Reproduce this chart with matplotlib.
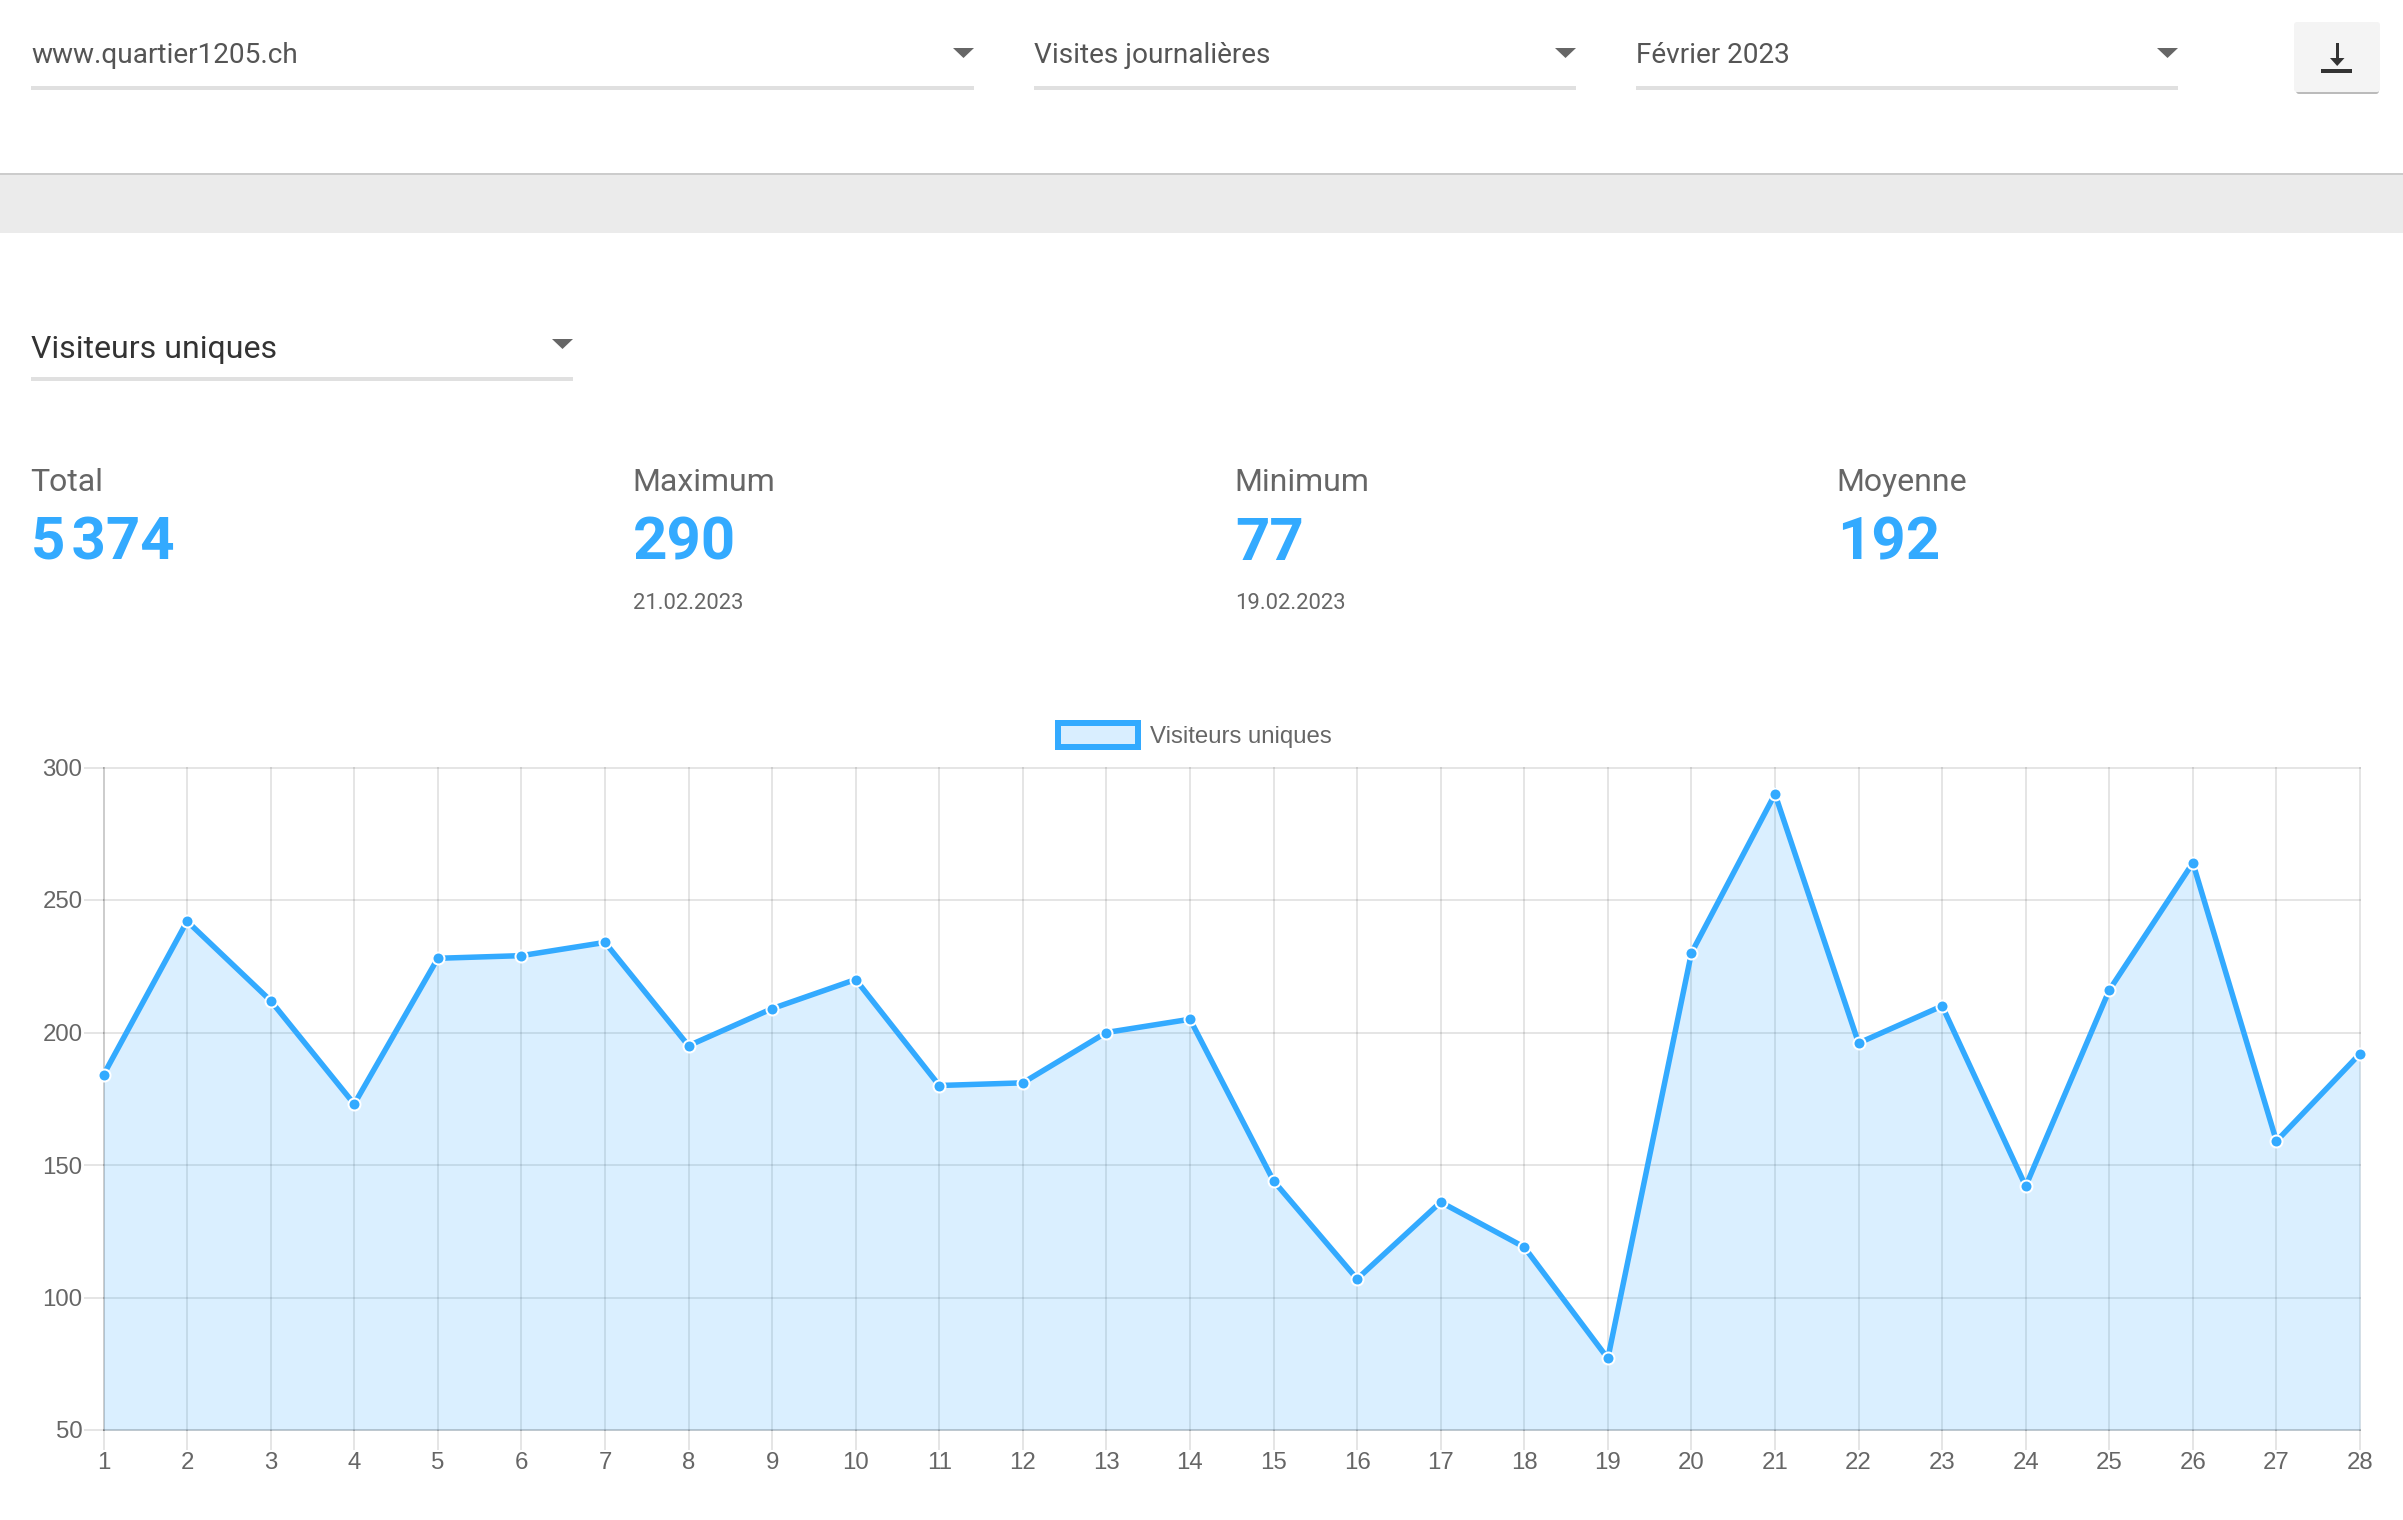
"""
plot.py

Dashboard screenshot: daily unique visitors for February 2023.
"""

import matplotlib
matplotlib.use("Agg")
import matplotlib.pyplot as plt
from matplotlib.patches import Rectangle, FancyBboxPatch, Polygon

days = list(range(1, 29))
visitors = [184, 242, 212, 173, 228, 229, 234, 195, 209, 220, 180, 181, 200, 205,
            144, 107, 136, 119, 77, 230, 290, 196, 210, 142, 216, 264, 159, 192]
y_ticks = [50, 100, 150, 200, 250, 300]
stat_labels = ["Total", "Maximum", "Minimum", "Moyenne"]
stat_values = ["5\u200a374", "290", "77", "192"]
stat_dates = ["", "21.02.2023", "19.02.2023", ""]
select_labels = ["www.quartier1205.ch", "Visites journalières", "Février 2023"]
series_name = "Visiteurs uniques"

W, H = 2403, 1520
BLUE = "#33aaff"
GRID_ALPHA = 0.1
GRID = (0, 0, 0, GRID_ALPHA)
TEXT = "#666666"


def px(size):
    # font sizes and line widths given in image pixels
    return size * 72 / 100


def draw_select(ax, x0, x1, y_line, y_arrow, y_text, label, size, color):
    ax.add_patch(Rectangle((x0, y_line), x1 - x0, 4, fc="#e0e0e0", ec="none"))
    ax.add_patch(Polygon([(x1 - 21, y_arrow), (x1, y_arrow), (x1 - 10.5, y_arrow + 10)],
                         fc="#666666", ec="none"))
    ax.text(x0, y_text, label, family="Roboto", fontsize=px(size), color=color,
            va="baseline", ha="left")


fig = plt.figure(figsize=(W / 100, H / 100), dpi=100, facecolor="white")

# page furniture, in pixel coordinates
bg = fig.add_axes([0, 0, 1, 1])
bg.set_xlim(0, W)
bg.set_ylim(H, 0)
bg.axis("off")

bg.add_patch(Rectangle((0, 174), W, 59, fc="#ebebeb", ec="none"))
bg.add_patch(Rectangle((0, 172.5), W, 2, fc="#cccccc", ec="none"))

draw_select(bg, 31, 974, 86, 48, 63, select_labels[0], 28, "#555555")
draw_select(bg, 1034, 1576, 86, 48, 63, select_labels[1], 28, "#555555")
draw_select(bg, 1636, 2178, 86, 48, 63, select_labels[2], 28, "#555555")
draw_select(bg, 31, 573, 377, 339, 358, series_name, 32, "#333333")

# download button
bg.add_patch(FancyBboxPatch((2296, 26), 83, 68, boxstyle="round,pad=0,rounding_size=3",
                            fc="#bbbbbb", ec="none"))
bg.add_patch(FancyBboxPatch((2294, 22), 86, 70, boxstyle="round,pad=0,rounding_size=3",
                            fc="#f4f4f4", ec="none"))
bg.add_patch(Rectangle((2336, 43), 2.5, 18, fc="#333333", ec="none"))
bg.add_patch(Polygon([(2330, 58), (2344.5, 58), (2337.2, 66)], fc="#333333", ec="none"))
bg.add_patch(Rectangle((2321, 69), 31, 4, fc="#333333", ec="none"))

# stats row
stat_x = [30, 632, 1234, 1836]
for x, label, value, date in zip(stat_x, stat_labels, stat_values, stat_dates):
    bg.text(x, 491, label, family="Roboto", fontsize=px(32), color=TEXT, va="baseline")
    bg.text(x + 1, 560, value, family=["Roboto", "DejaVu Sans"], fontsize=px(60),
            fontweight="bold", color=BLUE, va="baseline")
    if date:
        bg.text(x + 1, 609, date, family="Roboto", fontsize=px(22), color=TEXT, va="baseline")

# legend
bg.add_patch(Rectangle((1058, 723), 80, 24, fc="#d9eeff", ec=BLUE, lw=px(6)))
bg.text(1150, 743, series_name, family="Liberation Sans", fontsize=px(24),
        color=TEXT, va="baseline")

# chart
left, right, top, bottom = 103.5, 2360, 767.5, 1430
ax = fig.add_axes([left / W, 1 - bottom / H, (right - left) / W, (bottom - top) / H])
ax.patch.set_alpha(0)
ax.set_xlim(1, 28)
ax.set_ylim(50, 300)
ax.set_xticks(days)
ax.set_yticks(y_ticks)
ax.grid(True, color="black", alpha=GRID_ALPHA, linewidth=px(2))
ax.set_axisbelow(True)
for line in ax.get_xgridlines() + ax.get_ygridlines():
    line.set_clip_on(False)
ax.spines["top"].set_visible(False)
ax.spines["right"].set_visible(False)
for side in ["left", "bottom"]:
    ax.spines[side].set_color(GRID)
    ax.spines[side].set_linewidth(px(2))
ax.tick_params(axis="x", length=px(20), width=px(2), color=GRID, labelcolor=TEXT,
               labelsize=px(24), pad=px(2))
ax.tick_params(axis="y", length=px(20), width=px(2), color=GRID, labelcolor=TEXT,
               labelsize=px(24), pad=px(1))
for lbl in ax.get_xticklabels() + ax.get_yticklabels():
    lbl.set_family("Liberation Sans")

ax.fill_between(days, visitors, 50, color=BLUE, alpha=0.18, linewidth=0)
ax.plot(days, visitors, color=BLUE, linewidth=px(5.5), solid_joinstyle="miter",
        marker="o", markersize=px(12), markerfacecolor=BLUE, markeredgecolor="white",
        markeredgewidth=px(2), clip_on=False, zorder=5)

fig.savefig("out.png", dpi=100)
